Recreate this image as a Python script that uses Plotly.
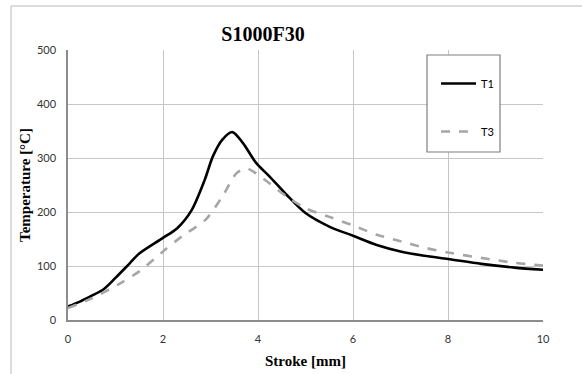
import plotly.graph_objects as go

stroke_t1 = [0, 0.25, 0.5, 0.75, 1.0, 1.3, 1.5, 2.0, 2.3, 2.6, 2.88, 3.05, 3.25, 3.46, 3.68, 3.96, 4.24, 4.6, 5.0, 5.5, 6.0, 6.5, 7.0, 7.5, 8.0, 8.7, 9.4, 10.0]
temp_t1 = [25, 34, 45, 57, 78, 105, 123, 152, 170, 203, 260, 303, 334, 348, 328, 291, 266, 232, 198, 173, 156, 139, 127, 119, 113, 104, 97, 93]

stroke_t3 = [0, 0.5, 1.1, 1.5, 2.0, 2.4, 2.9, 3.25, 3.55, 3.75, 3.95, 4.6, 5.0, 5.5, 6.0, 6.5, 7.0, 7.5, 8.0, 8.7, 9.4, 10.0]
temp_t3 = [22, 40, 68, 90, 127, 155, 186, 229, 272, 281, 272, 229, 207, 191, 175, 158, 146, 134, 125, 115, 106, 101]

x_ticks = [0, 2, 4, 6, 8, 10]
y_ticks = [0, 100, 200, 300, 400, 500]

fig = go.Figure()
fig.add_trace(go.Scatter(x=stroke_t1, y=temp_t1, mode="lines", name="T1",
                         line=dict(color="black", width=2.6, shape="spline", smoothing=0.8),
                         legendgroup="a"))
fig.add_trace(go.Scatter(x=stroke_t3, y=temp_t3, mode="lines", name="T3",
                         line=dict(color="#a6a6a6", width=2.6, dash="dash", shape="spline", smoothing=0.8),
                         legendgroup="b"))

# plot area: x 68..543, y 50..320 (px)
W, H = 582, 374
L, R, T, B = 68, 543, 50, 320
pw, ph = R - L, B - T

def px(x):
    return (x - L) / pw

def py(y):
    return (B - y) / ph

shapes = [
    # outer chart frame (top and left visible)
    dict(type="line", xref="paper", yref="paper", x0=px(11), x1=px(585), y0=py(6), y1=py(6),
         line=dict(color="#d0d0d0", width=1.5)),
    dict(type="line", xref="paper", yref="paper", x0=px(11), x1=px(11), y0=py(6), y1=py(380),
         line=dict(color="#d0d0d0", width=1.5)),
    # legend box
    dict(type="rect", xref="paper", yref="paper", x0=px(427), x1=px(500), y0=py(55), y1=py(152),
         fillcolor="white", line=dict(color="#7f7f7f", width=1.2), layer="above"),
]

fig.update_layout(
    width=W, height=H,
    margin=dict(l=L, r=W - R, t=T, b=H - B),
    paper_bgcolor="white", plot_bgcolor="white",
    title=dict(text="<b>S1000F30</b>", x=(263) / W, xanchor="center", y=1 - 34 / H, yanchor="middle",
               font=dict(family="Liberation Serif", size=20, color="black")),
    xaxis=dict(range=[0, 10], tickvals=x_ticks, showgrid=True, gridcolor="#c6c6c6", gridwidth=1,
               showline=True, linecolor="#8c8c8c", linewidth=1.5, zeroline=False, ticks="",
               automargin=False,
               tickfont=dict(family="Lato", size=11, color="#333333"), ticklabelstandoff=8,
               title=dict(text="<b>Stroke [mm]</b>", standoff=12,
                          font=dict(family="Liberation Serif", size=15, color="black"))),
    yaxis=dict(range=[0, 500], tickvals=y_ticks, showgrid=True, gridcolor="#c6c6c6", gridwidth=1,
               showline=True, linecolor="#8c8c8c", linewidth=1.5, zeroline=False, ticks="",
               automargin=False,
               tickfont=dict(family="Lato", size=11, color="#333333"), ticklabelstandoff=8,
               title=dict(text="<b>Temperature [°C]</b>", standoff=3,
                          font=dict(family="Liberation Serif", size=15, color="black"))),
    shapes=shapes,
    showlegend=True,
    legend=dict(x=px(436), y=py(69), xanchor="left", yanchor="top",
                bgcolor="rgba(0,0,0,0)", borderwidth=0, traceorder="grouped",
                tracegroupgap=29, itemwidth=35,
                font=dict(family="Lato", size=11, color="black")),
)

fig.write_html("out.html")
